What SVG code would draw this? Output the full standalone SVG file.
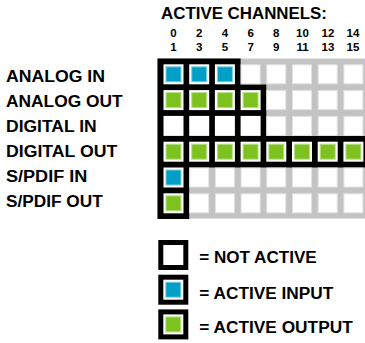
<svg xmlns="http://www.w3.org/2000/svg" width="365" height="343" viewBox="0 0 365 343">
<style>
text{font-family:"Liberation Sans",Arial,sans-serif;font-weight:bold;fill:#000}
.lbl{font-size:16px}
.dig{font-size:11.5px;text-anchor:middle}
.w{fill:#fff}
.gw{fill:#fff;stroke:#e2e2e2;stroke-width:1}
.b{fill:#00a0c6;stroke:#7fcfe4;stroke-width:1}
.g{fill:#7dc21f;stroke:#b9e08a;stroke-width:1}
</style>
<defs>
<g id="cw"><rect class="w" width="20" height="20"/></g>
<g id="cg"><rect class="gw" x="0.5" y="0.5" width="19" height="19"/></g>
<g id="cb"><rect class="w" width="20" height="20"/><rect class="b" x="2.5" y="2.5" width="15" height="15"/></g>
<g id="cgr"><rect class="w" width="20" height="20"/><rect class="g" x="2.5" y="2.5" width="15" height="15"/></g>
</defs>
<g id="header">
<text class="lbl" x="161" y="19" textLength="166" lengthAdjust="spacingAndGlyphs">ACTIVE CHANNELS:</text>
<text class="dig" x="173.5" y="36.7">0</text><text class="dig" x="199.2" y="36.7">2</text><text class="dig" x="224.9" y="36.7">4</text><text class="dig" x="250.6" y="36.7">6</text><text class="dig" x="276.3" y="36.7">8</text><text class="dig" x="302.5" y="36.7">10</text><text class="dig" x="328" y="36.7">12</text><text class="dig" x="353" y="36.7">14</text>
<text class="dig" x="173.5" y="50.5">1</text><text class="dig" x="199.2" y="50.5">3</text><text class="dig" x="224.9" y="50.5">5</text><text class="dig" x="250.6" y="50.5">7</text><text class="dig" x="276.3" y="50.5">9</text><text class="dig" x="302.5" y="50.5">11</text><text class="dig" x="328" y="50.5">13</text><text class="dig" x="353" y="50.5">15</text>
</g>
<g id="labels">
<text class="lbl" x="6" y="81.5" textLength="99" lengthAdjust="spacingAndGlyphs">ANALOG IN</text>
<text class="lbl" x="6" y="106.7" textLength="116.7" lengthAdjust="spacingAndGlyphs">ANALOG OUT</text>
<text class="lbl" x="6" y="131.8" textLength="90.7" lengthAdjust="spacingAndGlyphs">DIGITAL IN</text>
<text class="lbl" x="6" y="156.8" textLength="111.3" lengthAdjust="spacingAndGlyphs">DIGITAL OUT</text>
<text class="lbl" x="6" y="181.8" textLength="81.3" lengthAdjust="spacingAndGlyphs">S/PDIF IN</text>
<text class="lbl" x="6" y="206.8" textLength="96.7" lengthAdjust="spacingAndGlyphs">S/PDIF OUT</text>
</g>
<g id="grid">
<rect x="157.5" y="58.6" width="208" height="160" fill="#c3c3c3"/>
<path d="M157.5,58.6H240.6V84.4H266.3V136H366V167.4H189.2V219H157.5Z" fill="#000"/>
<!-- row 0 -->
<use href="#cb" x="163.5" y="64.3"/><use href="#cb" x="189.2" y="64.3"/><use href="#cb" x="214.9" y="64.3"/>
<use href="#cg" x="240.6" y="64.3"/><use href="#cg" x="266.3" y="64.3"/><use href="#cg" x="292" y="64.3"/><use href="#cg" x="317.7" y="64.3"/><use href="#cg" x="343.4" y="64.3"/>
<!-- row 1 -->
<use href="#cgr" x="163.5" y="90.1"/><use href="#cgr" x="189.2" y="90.1"/><use href="#cgr" x="214.9" y="90.1"/><use href="#cgr" x="240.6" y="90.1"/>
<use href="#cg" x="266.3" y="90.1"/><use href="#cg" x="292" y="90.1"/><use href="#cg" x="317.7" y="90.1"/><use href="#cg" x="343.4" y="90.1"/>
<!-- row 2 -->
<use href="#cw" x="163.5" y="115.9"/><use href="#cw" x="189.2" y="115.9"/><use href="#cw" x="214.9" y="115.9"/><use href="#cw" x="240.6" y="115.9"/>
<use href="#cg" x="266.3" y="115.9"/><use href="#cg" x="292" y="115.9"/><use href="#cg" x="317.7" y="115.9"/><use href="#cg" x="343.4" y="115.9"/>
<!-- row 3 -->
<use href="#cgr" x="163.5" y="141.7"/><use href="#cgr" x="189.2" y="141.7"/><use href="#cgr" x="214.9" y="141.7"/><use href="#cgr" x="240.6" y="141.7"/>
<use href="#cgr" x="266.3" y="141.7"/><use href="#cgr" x="292" y="141.7"/><use href="#cgr" x="317.7" y="141.7"/><use href="#cgr" x="343.4" y="141.7"/>
<!-- row 4 -->
<use href="#cb" x="163.5" y="167.5"/>
<use href="#cg" x="189.2" y="167.5"/><use href="#cg" x="214.9" y="167.5"/><use href="#cg" x="240.6" y="167.5"/><use href="#cg" x="266.3" y="167.5"/><use href="#cg" x="292" y="167.5"/><use href="#cg" x="317.7" y="167.5"/><use href="#cg" x="343.4" y="167.5"/>
<!-- row 5 -->
<use href="#cgr" x="163.5" y="193.3"/>
<use href="#cg" x="189.2" y="193.3"/><use href="#cg" x="214.9" y="193.3"/><use href="#cg" x="240.6" y="193.3"/><use href="#cg" x="266.3" y="193.3"/><use href="#cg" x="292" y="193.3"/><use href="#cg" x="317.7" y="193.3"/><use href="#cg" x="343.4" y="193.3"/>
</g>
<g id="legend">
<rect x="158.3" y="240" width="30" height="30" fill="#000"/><use href="#cw" x="163.3" y="245"/>
<rect x="158.3" y="274.7" width="30" height="30" fill="#000"/><use href="#cb" x="163.3" y="279.7"/>
<rect x="158.3" y="309.4" width="30" height="30" fill="#000"/><use href="#cgr" x="163.3" y="314.4"/>
<text class="lbl" x="199.3" y="263.3" textLength="117.4" lengthAdjust="spacingAndGlyphs">= NOT ACTIVE</text>
<text class="lbl" x="199.3" y="298.5" textLength="134" lengthAdjust="spacingAndGlyphs">= ACTIVE INPUT</text>
<text class="lbl" x="199.3" y="332.7" textLength="153.4" lengthAdjust="spacingAndGlyphs">= ACTIVE OUTPUT</text>
</g>
</svg>
